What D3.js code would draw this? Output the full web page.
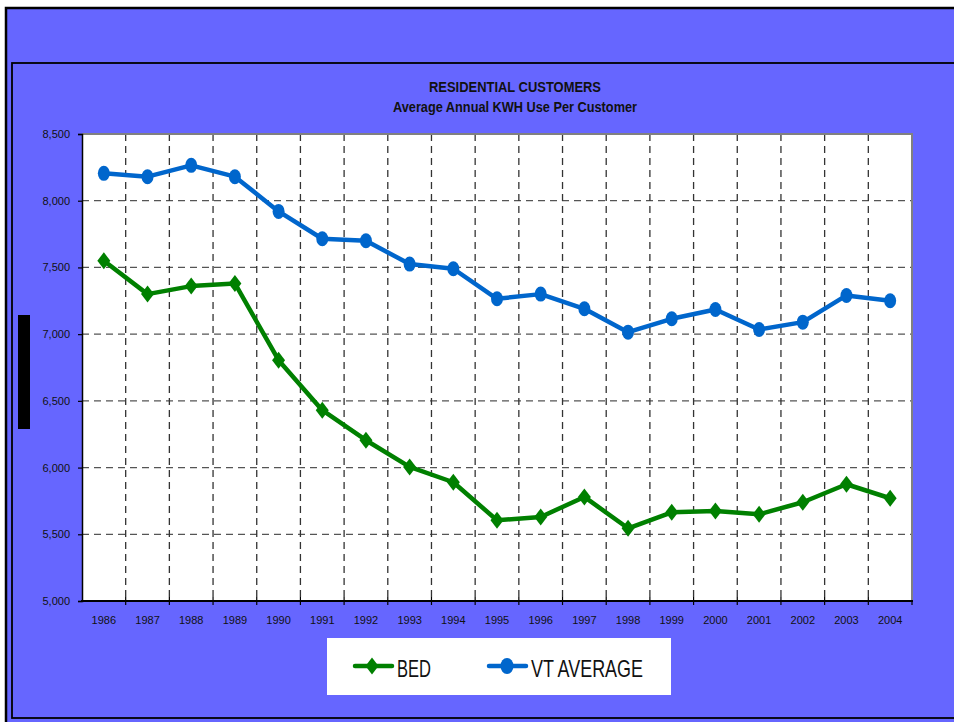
<!DOCTYPE html>
<html>
<head>
<meta charset="utf-8">
<script src="https://cdn.jsdelivr.net/npm/d3@7"></script>
<style>
  body { margin: 0; background: #fff; }
  svg { display: block; }
  text { font-family: "Liberation Sans Narrow", "Arial Narrow", "Liberation Sans", sans-serif; }
</style>
</head>
<body>
<svg id="chart" width="954" height="722"></svg>
<script>
// data
const years = ['1986', '1987', '1988', '1989', '1990', '1991', '1992', '1993', '1994', '1995',
  '1996', '1997', '1998', '1999', '2000', '2001', '2002', '2003', '2004'];
const bed = [7550, 7300, 7360, 7380, 6805, 6430, 6205, 6005, 5890, 5605,
  5630, 5780, 5545, 5665, 5675, 5650, 5740, 5875, 5770];
const vtAverage = [8205, 8180, 8265, 8180, 7920, 7715, 7700, 7525, 7490, 7265,
  7300, 7190, 7015, 7115, 7185, 7035, 7090, 7290, 7250];
const yTicks = [5000, 5500, 6000, 6500, 7000, 7500, 8000, 8500];
const titleLines = ['RESIDENTIAL CUSTOMERS', 'Average Annual KWH Use Per Customer'];

const svg = d3.select('#chart');
const bg = '#6666FF';
const green = '#008000';
const blue = '#0066CC';

// frame
svg.append('rect').attr('x', 6).attr('y', 8).attr('width', 960).attr('height', 730)
  .attr('fill', bg).attr('stroke', '#000').attr('stroke-width', 2.5);
svg.append('rect').attr('x', 12).attr('y', 63).attr('width', 960).attr('height', 655)
  .attr('fill', 'none').attr('stroke', '#000').attr('stroke-width', 1.8);
// black marker bar on the left
svg.append('rect').attr('x', 18).attr('y', 315).attr('width', 12).attr('height', 114).attr('fill', '#000');

const plot = { left: 82, right: 912, top: 134, bottom: 601 };
const x = d3.scaleBand().domain(years).range([plot.left, plot.right]).padding(0);
const y = d3.scaleLinear().domain([5000, 8500]).range([plot.bottom, plot.top]);
const cx = d => x(d) + x.bandwidth() / 2;

// plot area
svg.append('rect').attr('x', plot.left).attr('y', plot.top)
  .attr('width', plot.right - plot.left).attr('height', plot.bottom - plot.top)
  .attr('fill', '#fff');

// grid
svg.append('g').selectAll('line').data(yTicks.filter(v => v > 5000 && v < 8500)).join('line')
  .attr('x1', plot.left).attr('x2', plot.right)
  .attr('y1', d => y(d)).attr('y2', d => y(d))
  .attr('stroke', '#555').attr('stroke-width', 1.3).attr('stroke-dasharray', '7,5');
svg.append('g').selectAll('line').data(years.slice(1)).join('line')
  .attr('x1', d => x(d)).attr('x2', d => x(d))
  .attr('y1', plot.top).attr('y2', plot.bottom)
  .attr('stroke', '#333').attr('stroke-width', 1.3).attr('stroke-dasharray', '7,5');

// top/right border of the plot
svg.append('path')
  .attr('d', `M${plot.left},${plot.top}H${plot.right}V${plot.bottom}`)
  .attr('fill', 'none').attr('stroke', '#808080').attr('stroke-width', 2);

// y axis
const yAxis = svg.append('g').attr('transform', `translate(${plot.left},0)`)
  .call(d3.axisLeft(y).tickValues(yTicks).tickFormat(d3.format(',')).tickSize(4).tickPadding(8));
yAxis.select('.domain').attr('stroke', '#000').attr('stroke-width', 1.5);
yAxis.selectAll('.tick line').attr('stroke', '#000').attr('stroke-width', 1.2);
yAxis.selectAll('text').attr('font-size', 11).attr('fill', '#111');

// x axis (labels at centers, ticks at category boundaries)
const xAxis = svg.append('g').attr('transform', `translate(0,${plot.bottom})`)
  .call(d3.axisBottom(x).tickSize(0).tickPadding(15));
xAxis.select('.domain').remove();
xAxis.selectAll('text').attr('font-size', 11).attr('fill', '#111');
svg.append('g').selectAll('line').data(years.slice(1)).join('line')
  .attr('x1', d => x(d)).attr('x2', d => x(d))
  .attr('y1', plot.bottom - 4).attr('y2', plot.bottom + 4)
  .attr('stroke', '#000').attr('stroke-width', 1.2);
svg.append('line').attr('x1', plot.left - 1).attr('x2', plot.right + 1)
  .attr('y1', plot.bottom).attr('y2', plot.bottom)
  .attr('stroke', '#000').attr('stroke-width', 2);
svg.append('line').attr('x1', plot.right).attr('x2', plot.right)
  .attr('y1', plot.bottom).attr('y2', plot.bottom + 4)
  .attr('stroke', '#000').attr('stroke-width', 1.2);

// title
svg.append('text').attr('x', 515).attr('y', 92).attr('text-anchor', 'middle')
  .attr('font-size', 14).attr('font-weight', 'bold').attr('fill', '#111')
  .attr('textLength', 172).attr('lengthAdjust', 'spacingAndGlyphs')
  .text(titleLines[0]);
svg.append('text').attr('x', 515).attr('y', 112).attr('text-anchor', 'middle')
  .attr('font-size', 14).attr('font-weight', 'bold').attr('fill', '#111')
  .attr('textLength', 244).attr('lengthAdjust', 'spacingAndGlyphs')
  .text(titleLines[1]);

// series
const diamond = (px, py, w, h) => `M${px},${py - h / 2}L${px + w / 2},${py}L${px},${py + h / 2}L${px - w / 2},${py}Z`;
const line = d3.line().x((d, i) => cx(years[i])).y(d => y(d));

svg.append('path').datum(vtAverage).attr('d', line)
  .attr('fill', 'none').attr('stroke', blue).attr('stroke-width', 4.5).attr('stroke-linejoin', 'round');
svg.append('g').selectAll('ellipse').data(vtAverage).join('ellipse')
  .attr('cx', (d, i) => cx(years[i])).attr('cy', d => y(d))
  .attr('rx', 6).attr('ry', 7.5).attr('fill', blue);

svg.append('path').datum(bed).attr('d', line)
  .attr('fill', 'none').attr('stroke', green).attr('stroke-width', 4.5).attr('stroke-linejoin', 'round');
svg.append('g').selectAll('path').data(bed).join('path')
  .attr('d', (d, i) => diamond(cx(years[i]), y(d), 13, 17)).attr('fill', green);

// legend
const legend = svg.append('g');
legend.append('rect').attr('x', 327).attr('y', 638).attr('width', 344).attr('height', 57).attr('fill', '#fff');
const legendItems = [
  { name: 'BED', color: green, x0: 355, width: 34 },
  { name: 'VT AVERAGE', color: blue, x0: 489, width: 112 }
];
legendItems.forEach(it => {
  legend.append('line').attr('x1', it.x0).attr('x2', it.x0 + 37).attr('y1', 666).attr('y2', 666)
    .attr('stroke', it.color).attr('stroke-width', 4.5).attr('stroke-linecap', 'round');
  if (it.name === 'BED') {
    legend.append('path').attr('d', diamond(it.x0 + 17, 666, 13, 17)).attr('fill', it.color);
  } else {
    legend.append('ellipse').attr('cx', it.x0 + 18).attr('cy', 666).attr('rx', 6.5).attr('ry', 8).attr('fill', it.color);
  }
  legend.append('text').attr('x', it.x0 + 42).attr('y', 677)
    .attr('font-size', 24).attr('fill', '#111')
    .attr('textLength', it.width).attr('lengthAdjust', 'spacingAndGlyphs')
    .text(it.name);
});
</script>
</body>
</html>
